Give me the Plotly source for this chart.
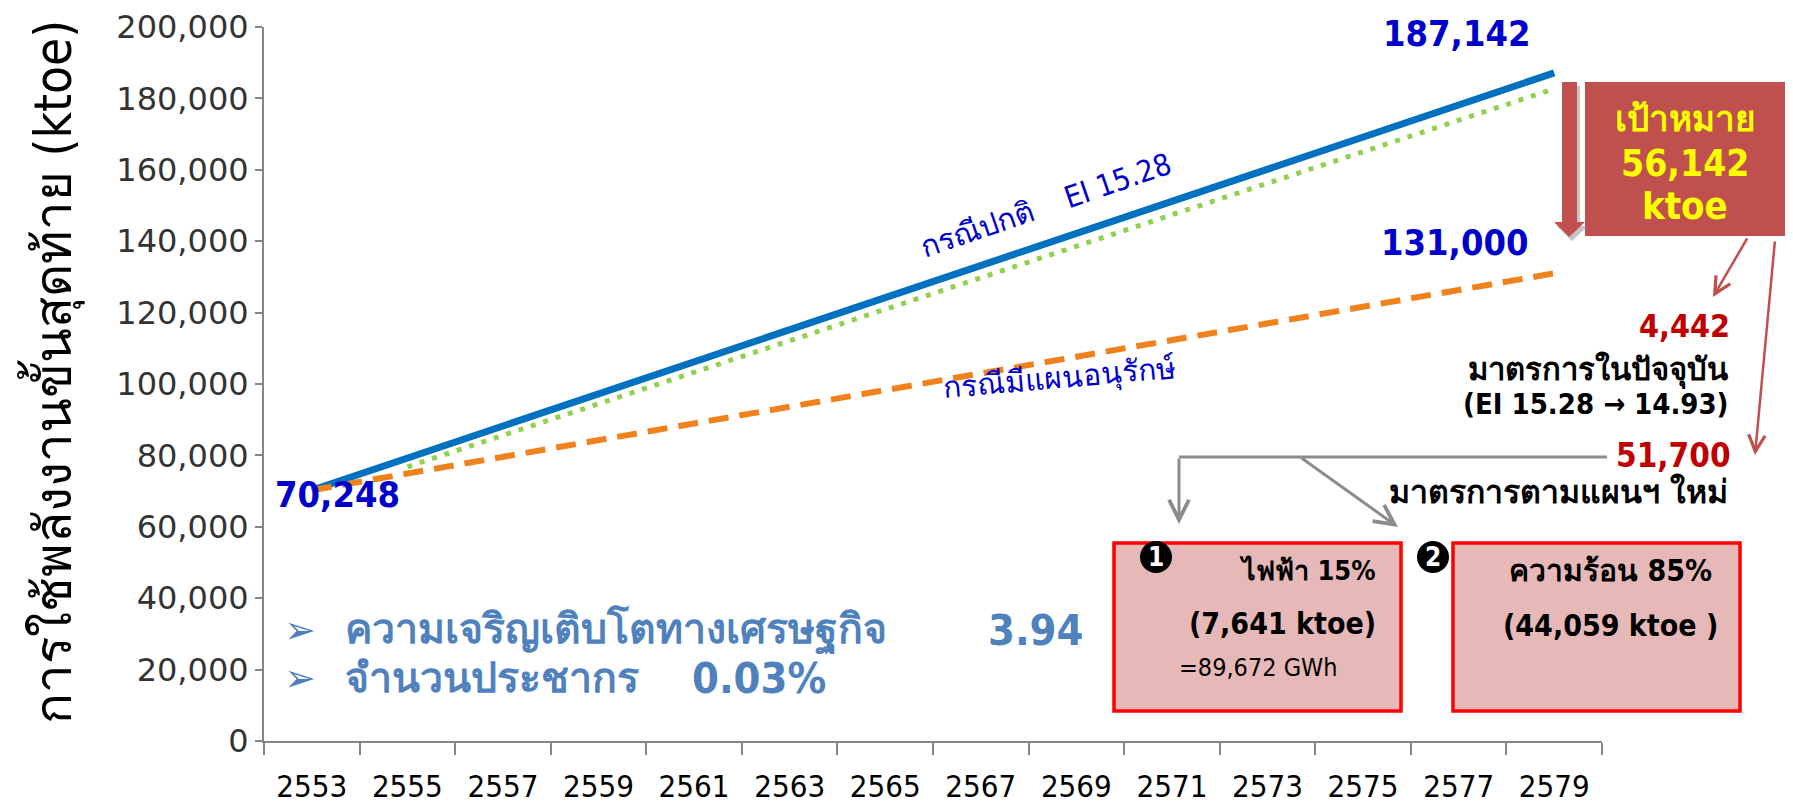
import plotly.graph_objects as go

# ---------------- data ----------------
years_normal = [2553, 2579]
normal_case = [70248, 187142]          # กรณีปกติ EI 15.28

years_current = [2555, 2579]
current_measures = [76800, 182700]     # มาตรการในปัจจุบัน (dotted)

years_plan = [2553, 2579]
plan_case = [70248, 131000]            # กรณีมีแผนอนุรักษ์

tick_years = list(range(2553, 2580, 2))
tick_labels = [str(y) for y in tick_years]
boundary_years = list(range(2552, 2581, 2))

# ---------------- layout helpers (page pixel -> paper) ----------------
FW, FH = 1793, 808
OFF = 8                       # default page body margin
L, T, W, H = 256, 19, 1338, 714


def px(x):
    return (x - OFF - L) / W


def py(y):
    return (T + H - (y - OFF)) / H


BOLD = "DejaVu Sans Condensed, DejaVu Sans, sans-serif"
REG = "DejaVu Sans Condensed, DejaVu Sans, sans-serif"
BLUE_TXT = "#0000CC"
DARKRED = "#C00000"
BOXRED = "#C0504D"
GREY = "#8C8C8C"
NB = "\u00a0"

fig = go.Figure()
fig.add_trace(go.Scatter(x=years_normal, y=normal_case, mode="lines",
                         line=dict(color="#0070C0", width=7), name="กรณีปกติ"))
fig.add_trace(go.Scatter(x=years_current, y=current_measures, mode="lines",
                         line=dict(color="#92D050", width=5, dash="5px,8px"),
                         name="มาตรการในปัจจุบัน"))
fig.add_trace(go.Scatter(x=years_plan, y=plan_case, mode="lines",
                         line=dict(color="#F0821E", width=6, dash="20px,11px"),
                         name="กรณีมีแผนอนุรักษ์"))

ann = []


def text(x, y, s, size, color="black", bold=True, xanchor="center",
         yanchor="middle", angle=0, family=None, align="center"):
    ann.append(dict(x=px(x), y=py(y), xref="paper", yref="paper", text=s,
                    showarrow=False, xanchor=xanchor, yanchor=yanchor,
                    textangle=angle, align=align,
                    font=dict(size=size, color=color,
                              family=family or (BOLD if bold else REG),
                              weight="bold" if bold else "normal")))


def arrow(x0, y0, x1, y1, color, width=3):
    # tail (x0,y0) -> tip (x1,y1), pixel coords
    ann.append(dict(x=px(x1), y=py(y1), xref="paper", yref="paper", text="",
                    showarrow=True, ax=x0 - x1, ay=y0 - y1,
                    arrowhead=5, arrowsize=1.3, arrowwidth=width,
                    arrowcolor=color, standoff=0))


# y-axis title
text(51, 372, "การใช้พลังงานขั้นสุดท้าย (ktoe)", 51, color="black", bold=False,
     angle=-90, family="DejaVu Sans Condensed, DejaVu Sans, sans-serif")

# value labels
text(1457, 34, "187,142", 36, BLUE_TXT)
text(1455, 242, "131,000", 36, BLUE_TXT)
text(337, 494, "70,248", 36, BLUE_TXT)

# line labels
text(1045, 205, "กรณีปกติ" + NB * 4 + "EI 15.28", 30, BLUE_TXT, bold=False, angle=-19)
text(1059, 378, "กรณีมีแผนอนุรักษ์", 30, BLUE_TXT, bold=False, angle=-5)

# target box text
text(1685, 119, "เป้าหมาย", 35, "#FFFF00")
text(1685, 163, "56,142", 37, "#FFFF00")
text(1685, 206, "ktoe", 38, "#FFFF00")

# right-side explanations
text(1732, 326, "4,442", 32, DARKRED, xanchor="right")
text(1730, 370, "มาตรการในปัจจุบัน", 31, "black", xanchor="right")
text(1731, 404, "(EI 15.28 → 14.93)", 29, "black", xanchor="right")
text(1733, 455, "51,700", 33, DARKRED, xanchor="right")
text(1730, 492, "มาตรการตามแผนฯ ใหม่", 32, "black", xanchor="right")

# box contents
text(1378, 570, "ไฟฟ้า 15%", 27, "black", xanchor="right")
text(1378, 623, "(7,641 ktoe)", 30, "black", xanchor="right")
text(1340, 667, "=89,672 GWh", 25, "black", bold=False, xanchor="right")
text(1611, 570, "ความร้อน 85%", 30, "black")
text(1611, 625, "(44,059 ktoe )", 30, "black")

# circled numbers
text(1156, 557, "1", 26, "white")
text(1433, 557, "2", 26, "white")

# bullets
BUL = "#4F81BD"
text(300, 630, "➢", 38, BUL, family="DejaVu Sans, sans-serif")
text(300, 678, "➢", 38, BUL, family="DejaVu Sans, sans-serif")
text(343, 630, "ความเจริญเติบโตทางเศรษฐกิจ", 41, BUL, xanchor="left")
text(986, 630, "3.94", 43, BUL, xanchor="left")
text(343, 678, "จำนวนประชากร", 41, BUL, xanchor="left")
text(690, 678, "0.03%", 43, BUL, xanchor="left")

# arrows
arrow(1748, 237, 1713, 297, BOXRED, 2.5)
arrow(1775, 240, 1755, 455, BOXRED, 2.5)
arrow(1179, 457, 1179, 524, GREY, 3)
arrow(1300, 457, 1398, 527, GREY, 3)

shapes = []


def rect(x0, y0, x1, y1, fill, line_color=None, lw=0):
    shapes.append(dict(type="rect", xref="paper", yref="paper",
                       x0=px(x0), x1=px(x1), y0=py(y1), y1=py(y0),
                       fillcolor=fill, line=dict(color=line_color or fill, width=lw),
                       layer="above"))


def circle(cx, cy, r, fill):
    shapes.append(dict(type="circle", xref="paper", yref="paper",
                       x0=px(cx - r), x1=px(cx + r), y0=py(cy + r), y1=py(cy - r),
                       fillcolor=fill, line=dict(color=fill, width=0), layer="above"))


def poly(pts, fill, opacity=1.0):
    d = "M " + " L ".join(f"{px(x):.5f},{py(y):.5f}" for x, y in pts) + " Z"
    shapes.append(dict(type="path", xref="paper", yref="paper", path=d,
                       fillcolor=fill, line=dict(width=0), opacity=opacity,
                       layer="above"))


# target box
rect(1585, 82, 1786, 236, BOXRED)
# down arrow (shadow + arrow)
arr = [(1562, 82), (1577, 82), (1577, 222), (1585, 222), (1569, 237),
       (1554, 222), (1562, 222)]
poly([(x + 3, y + 4) for x, y in arr], "#7F7F7F", 0.45)
poly(arr, BOXRED)

# grey connector
shapes.append(dict(type="line", xref="paper", yref="paper",
                   x0=px(1179), x1=px(1607), y0=py(457), y1=py(457),
                   line=dict(color=GREY, width=3)))

# pink boxes
rect(1114, 543, 1401, 711, "#E6B9B8", "#FF0000", 3.5)
rect(1453, 543, 1740, 711, "#E6B9B8", "#FF0000", 3.5)
circle(1156, 557, 16, "black")
circle(1433, 557, 16, "black")

fig.update_layout(
    width=FW, height=FH,
    margin=dict(l=L, r=FW - L - W, t=T, b=FH - T - H),
    paper_bgcolor="white", plot_bgcolor="white",
    showlegend=False,
    annotations=ann, shapes=shapes,
    xaxis=dict(range=[2552, 2580], tickmode="array", tickvals=tick_years,
               ticktext=tick_labels, ticks="", showgrid=False, zeroline=False,
               showline=True, linecolor="#868686", linewidth=2,
               automargin=False, ticklabelstandoff=17,
               tickfont=dict(family="Liberation Sans Narrow, DejaVu Sans Condensed, sans-serif",
                             size=31, color="black"),
               minor=dict(tickmode="array", tickvals=boundary_years, ticks="outside",
                          ticklen=12, tickwidth=2, tickcolor="#868686", showgrid=False)),
    yaxis=dict(range=[0, 200000], dtick=20000, tickformat=",d", ticks="outside",
               ticklen=7, tickwidth=2, tickcolor="#868686", showgrid=False,
               zeroline=False, showline=True, linecolor="#868686", linewidth=2,
               automargin=False, ticklabelstandoff=0, ticklabeloverflow="allow",
               tickfont=dict(family="DejaVu Sans, sans-serif", size=32, color="#333333")),
)

fig.write_html("out.html")
